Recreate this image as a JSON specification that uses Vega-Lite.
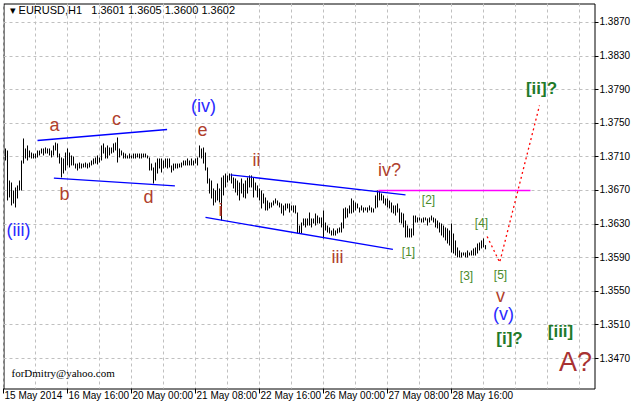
{
  "$schema": "https://vega.github.io/schema/vega-lite/v6.json",
  "width": 591,
  "height": 385,
  "autosize": "none",
  "padding": {"left": 3.5, "top": 3.5, "right": 37.5, "bottom": 17.5},
  "background": "white",
  "config": {"view": {"stroke": "black", "strokeWidth": 1}, "font": "Liberation Sans"},
  "datasets": {
    "bars": [
      {"i":-31,"h":1.37200,"p":1.37057},{"i":-30,"h":1.37176,"p":1.36581},{"i":-29,"h":1.36819,"p":1.36617},{"i":-28,"h":1.36795,"p":1.36522},
      {"i":-27,"h":1.36700,"p":1.36545},{"i":-26,"h":1.36736,"p":1.36498},{"i":-25,"h":1.36760,"p":1.36605},{"i":-24,"h":1.36819,"p":1.36700},
      {"i":-23,"h":1.37057,"p":1.36700},{"i":-22,"h":1.37319,"p":1.37021},{"i":-21,"h":1.37200,"p":1.37081},{"i":-20,"h":1.37236,"p":1.37057},
      {"i":-19,"h":1.37176,"p":1.37093},{"i":-18,"h":1.37152,"p":1.37081},{"i":-17,"h":1.37140,"p":1.37081},{"i":-16,"h":1.37140,"p":1.37081},
      {"i":-15,"h":1.37176,"p":1.37093},{"i":-14,"h":1.37176,"p":1.37117},{"i":-13,"h":1.37200,"p":1.37140},{"i":-12,"h":1.37200,"p":1.37117},
      {"i":-11,"h":1.37212,"p":1.37140},{"i":-10,"h":1.37200,"p":1.37140},{"i":-9,"h":1.37200,"p":1.37117},{"i":-8,"h":1.37176,"p":1.37093},
      {"i":-7,"h":1.37236,"p":1.37117},{"i":-6,"h":1.37271,"p":1.37176},{"i":-5,"h":1.37260,"p":1.37093},{"i":-4,"h":1.37140,"p":1.37021},
      {"i":-3,"h":1.37093,"p":1.36855},{"i":-2,"h":1.37081,"p":1.36902},{"i":-1,"h":1.37152,"p":1.36938},{"i":0,"h":1.37200,"p":1.36998},
      {"i":1,"h":1.37152,"p":1.36974},{"i":2,"h":1.37117,"p":1.36998},{"i":3,"h":1.37105,"p":1.36998},{"i":4,"h":1.37021,"p":1.36962},
      {"i":5,"h":1.37021,"p":1.36938},{"i":6,"h":1.37033,"p":1.36962},{"i":7,"h":1.37021,"p":1.36962},{"i":8,"h":1.37021,"p":1.36974},
      {"i":9,"h":1.37033,"p":1.36974},{"i":10,"h":1.37021,"p":1.36962},{"i":11,"h":1.37033,"p":1.36974},{"i":12,"h":1.37057,"p":1.36998},
      {"i":13,"h":1.37081,"p":1.37010},{"i":14,"h":1.37093,"p":1.37021},{"i":15,"h":1.37117,"p":1.37010},{"i":16,"h":1.37093,"p":1.37033},
      {"i":17,"h":1.37236,"p":1.37057},{"i":18,"h":1.37260,"p":1.37140},{"i":19,"h":1.37212,"p":1.37081},{"i":20,"h":1.37236,"p":1.37081},
      {"i":21,"h":1.37212,"p":1.37117},{"i":22,"h":1.37212,"p":1.37140},{"i":23,"h":1.37260,"p":1.37152},{"i":24,"h":1.37271,"p":1.37176},
      {"i":25,"h":1.37331,"p":1.37033},{"i":26,"h":1.37200,"p":1.37093},{"i":27,"h":1.37176,"p":1.37117},{"i":28,"h":1.37152,"p":1.37081},
      {"i":29,"h":1.37140,"p":1.37081},{"i":30,"h":1.37117,"p":1.37081},{"i":31,"h":1.37140,"p":1.37081},{"i":32,"h":1.37117,"p":1.37081},
      {"i":33,"h":1.37140,"p":1.37081},{"i":34,"h":1.37140,"p":1.37081},{"i":35,"h":1.37140,"p":1.37093},{"i":36,"h":1.37140,"p":1.37081},
      {"i":37,"h":1.37140,"p":1.37081},{"i":38,"h":1.37140,"p":1.37093},{"i":39,"h":1.37140,"p":1.37093},{"i":40,"h":1.37117,"p":1.37081},
      {"i":41,"h":1.37093,"p":1.36938},{"i":42,"h":1.37021,"p":1.36938},{"i":43,"h":1.36974,"p":1.36783},{"i":44,"h":1.37033,"p":1.36819},
      {"i":45,"h":1.37081,"p":1.36902},{"i":46,"h":1.37081,"p":1.36962},{"i":47,"h":1.37081,"p":1.36914},{"i":48,"h":1.37057,"p":1.36962},
      {"i":49,"h":1.37081,"p":1.36974},{"i":50,"h":1.37081,"p":1.36962},{"i":51,"h":1.37081,"p":1.36974},{"i":52,"h":1.36998,"p":1.36914},
      {"i":53,"h":1.37021,"p":1.36938},{"i":54,"h":1.37021,"p":1.36962},{"i":55,"h":1.37021,"p":1.36962},{"i":56,"h":1.37021,"p":1.36974},
      {"i":57,"h":1.37033,"p":1.36974},{"i":58,"h":1.37057,"p":1.36998},{"i":59,"h":1.37057,"p":1.36998},{"i":60,"h":1.37081,"p":1.36998},
      {"i":61,"h":1.37057,"p":1.36998},{"i":62,"h":1.37081,"p":1.36998},{"i":63,"h":1.37057,"p":1.36998},{"i":64,"h":1.37081,"p":1.37021},
      {"i":65,"h":1.37093,"p":1.36998},{"i":66,"h":1.37236,"p":1.37093},{"i":67,"h":1.37200,"p":1.37081},{"i":68,"h":1.37212,"p":1.37021},
      {"i":69,"h":1.37152,"p":1.36938},{"i":70,"h":1.36974,"p":1.36783},{"i":71,"h":1.36843,"p":1.36664},{"i":72,"h":1.36819,"p":1.36605},
      {"i":73,"h":1.36724,"p":1.36522},{"i":74,"h":1.36700,"p":1.36557},{"i":75,"h":1.36783,"p":1.36581},{"i":76,"h":1.36724,"p":1.36557},
      {"i":77,"h":1.36855,"p":1.36343},{"i":78,"h":1.36879,"p":1.36641},{"i":79,"h":1.36902,"p":1.36736},{"i":80,"h":1.36879,"p":1.36795},
      {"i":81,"h":1.36902,"p":1.36819},{"i":82,"h":1.36902,"p":1.36783},{"i":83,"h":1.36855,"p":1.36724},{"i":84,"h":1.36843,"p":1.36676},
      {"i":85,"h":1.36819,"p":1.36641},{"i":86,"h":1.36795,"p":1.36581},{"i":87,"h":1.36843,"p":1.36664},{"i":88,"h":1.36783,"p":1.36617},
      {"i":89,"h":1.36819,"p":1.36605},{"i":90,"h":1.36855,"p":1.36664},{"i":91,"h":1.36879,"p":1.36736},{"i":92,"h":1.36879,"p":1.36736},
      {"i":93,"h":1.36855,"p":1.36617},{"i":94,"h":1.36795,"p":1.36700},{"i":95,"h":1.36760,"p":1.36617},{"i":96,"h":1.36724,"p":1.36581},
      {"i":97,"h":1.36700,"p":1.36486},{"i":98,"h":1.36664,"p":1.36545},{"i":99,"h":1.36617,"p":1.36462},{"i":100,"h":1.36581,"p":1.36462},
      {"i":101,"h":1.36557,"p":1.36486},{"i":102,"h":1.36557,"p":1.36498},{"i":103,"h":1.36581,"p":1.36522},{"i":104,"h":1.36605,"p":1.36545},
      {"i":105,"h":1.36581,"p":1.36522},{"i":106,"h":1.36557,"p":1.36498},{"i":107,"h":1.36545,"p":1.36426},{"i":108,"h":1.36522,"p":1.36402},
      {"i":109,"h":1.36545,"p":1.36462},{"i":110,"h":1.36545,"p":1.36486},{"i":111,"h":1.36545,"p":1.36438},{"i":112,"h":1.36522,"p":1.36462},
      {"i":113,"h":1.36522,"p":1.36438},{"i":114,"h":1.36522,"p":1.36426},{"i":115,"h":1.36438,"p":1.36188},{"i":116,"h":1.36283,"p":1.36188},
      {"i":117,"h":1.36319,"p":1.36188},{"i":118,"h":1.36367,"p":1.36283},{"i":119,"h":1.36367,"p":1.36260},{"i":120,"h":1.36367,"p":1.36283},
      {"i":121,"h":1.36438,"p":1.36283},{"i":122,"h":1.36367,"p":1.36260},{"i":123,"h":1.36367,"p":1.36307},{"i":124,"h":1.36426,"p":1.36283},
      {"i":125,"h":1.36402,"p":1.36307},{"i":126,"h":1.36379,"p":1.36307},{"i":127,"h":1.36379,"p":1.36260},{"i":128,"h":1.36462,"p":1.36129},
      {"i":129,"h":1.36319,"p":1.36224},{"i":130,"h":1.36283,"p":1.36200},{"i":131,"h":1.36260,"p":1.36188},{"i":132,"h":1.36224,"p":1.36164},
      {"i":133,"h":1.36248,"p":1.36164},{"i":134,"h":1.36224,"p":1.36164},{"i":135,"h":1.36248,"p":1.36188},{"i":136,"h":1.36260,"p":1.36200},
      {"i":137,"h":1.36319,"p":1.36200},{"i":138,"h":1.36486,"p":1.36248},{"i":139,"h":1.36498,"p":1.36367},{"i":140,"h":1.36486,"p":1.36379},
      {"i":141,"h":1.36522,"p":1.36426},{"i":142,"h":1.36605,"p":1.36426},{"i":143,"h":1.36581,"p":1.36438},{"i":144,"h":1.36557,"p":1.36462},
      {"i":145,"h":1.36545,"p":1.36486},{"i":146,"h":1.36498,"p":1.36438},{"i":147,"h":1.36522,"p":1.36462},{"i":148,"h":1.36498,"p":1.36438},
      {"i":149,"h":1.36498,"p":1.36462},{"i":150,"h":1.36498,"p":1.36438},{"i":151,"h":1.36522,"p":1.36462},{"i":152,"h":1.36498,"p":1.36438},
      {"i":153,"h":1.36486,"p":1.36438},{"i":154,"h":1.36641,"p":1.36486},{"i":155,"h":1.36700,"p":1.36498},{"i":156,"h":1.36700,"p":1.36581},
      {"i":157,"h":1.36664,"p":1.36581},{"i":158,"h":1.36641,"p":1.36545},{"i":159,"h":1.36605,"p":1.36522},{"i":160,"h":1.36605,"p":1.36498},
      {"i":161,"h":1.36581,"p":1.36486},{"i":162,"h":1.36557,"p":1.36438},{"i":163,"h":1.36522,"p":1.36426},{"i":164,"h":1.36522,"p":1.36402},
      {"i":165,"h":1.36545,"p":1.36438},{"i":166,"h":1.36486,"p":1.36319},{"i":167,"h":1.36438,"p":1.36307},{"i":168,"h":1.36426,"p":1.36260},
      {"i":169,"h":1.36343,"p":1.36141},{"i":170,"h":1.36283,"p":1.36141},{"i":171,"h":1.36248,"p":1.36141},{"i":172,"h":1.36248,"p":1.36141},
      {"i":173,"h":1.36402,"p":1.36164},{"i":174,"h":1.36402,"p":1.36319},{"i":175,"h":1.36379,"p":1.36319},{"i":176,"h":1.36379,"p":1.36343},
      {"i":177,"h":1.36367,"p":1.36319},{"i":178,"h":1.36379,"p":1.36319},{"i":179,"h":1.36379,"p":1.36343},{"i":180,"h":1.36367,"p":1.36283},
      {"i":181,"h":1.36379,"p":1.36319},{"i":182,"h":1.36402,"p":1.36343},{"i":183,"h":1.36379,"p":1.36319},{"i":184,"h":1.36367,"p":1.36260},
      {"i":185,"h":1.36343,"p":1.36248},{"i":186,"h":1.36319,"p":1.36200},{"i":187,"h":1.36307,"p":1.36164},{"i":188,"h":1.36283,"p":1.36141},
      {"i":189,"h":1.36260,"p":1.36105},{"i":190,"h":1.36248,"p":1.36069},{"i":191,"h":1.36224,"p":1.36045},{"i":192,"h":1.36307,"p":1.35962},
      {"i":193,"h":1.36188,"p":1.35950},{"i":194,"h":1.36105,"p":1.35926},{"i":195,"h":1.36022,"p":1.35903},{"i":196,"h":1.35986,"p":1.35903},
      {"i":197,"h":1.35962,"p":1.35903},{"i":198,"h":1.35962,"p":1.35926},{"i":199,"h":1.35962,"p":1.35903},{"i":200,"h":1.35986,"p":1.35903},
      {"i":201,"h":1.35962,"p":1.35926},{"i":202,"h":1.35986,"p":1.35926},{"i":203,"h":1.36010,"p":1.35926},{"i":204,"h":1.36022,"p":1.35926},
      {"i":205,"h":1.36069,"p":1.35950},{"i":206,"h":1.36081,"p":1.35986},{"i":207,"h":1.36105,"p":1.36010},{"i":208,"h":1.36129,"p":1.36022},
      {"i":209,"h":1.36050,"p":1.36000}
    ],
    "lines": [
      {"seg":"ac","s":"b","i":-15,"p":1.37295},{"seg":"ac","s":"b","i":49.8,"p":1.37426},
      {"seg":"bd","s":"b","i":-6.8,"p":1.36847},{"seg":"bd","s":"b","i":53.7,"p":1.36756},
      {"seg":"lo","s":"b","i":69,"p":1.36379},{"seg":"lo","s":"b","i":162.7,"p":1.35998},
      {"seg":"up","s":"b","i":81.5,"p":1.36887},{"seg":"up","s":"b","i":169,"p":1.36649},
      {"seg":"mg","s":"m","i":155.5,"p":1.36700},{"seg":"mg","s":"m","i":231.5,"p":1.36700},
      {"seg":"pr","s":"r","i":209.8,"p":1.36153},{"seg":"pr","s":"r","i":216.1,"p":1.35845},{"seg":"pr","s":"r","i":236,"p":1.37712}
    ],
    "labels": [
      {"t":"a","g":"br","i":-6.5,"p":1.37462},
      {"t":"b","g":"br","i":-1.5,"p":1.36641},
      {"t":"c","g":"br","i":24.5,"p":1.37545},
      {"t":"d","g":"br","i":40.5,"p":1.36605},
      {"t":"e","g":"br","i":67.5,"p":1.37414},
      {"t":"i","g":"br","i":76.5,"p":1.36450},
      {"t":"ii","g":"br","i":94.5,"p":1.37057},
      {"t":"iii","g":"br","i":135,"p":1.35891},
      {"t":"iv?","g":"br","i":161,"p":1.36938},
      {"t":"v","g":"br","i":216.5,"p":1.35438},
      {"t":"(iv)","g":"bl","i":68,"p":1.37688},
      {"t":"(iii)","g":"bl","i":-24.5,"p":1.36212},
      {"t":"(v)","g":"bl","i":218,"p":1.35212},
      {"t":"[1]","g":"gs","i":170.5,"p":1.35962},
      {"t":"[2]","g":"gs","i":180.5,"p":1.36581},
      {"t":"[3]","g":"gs","i":199.5,"p":1.35688},
      {"t":"[4]","g":"gs","i":207,"p":1.36319},
      {"t":"[5]","g":"gs","i":216.5,"p":1.35700},
      {"t":"[i]?","g":"gb","i":221,"p":1.34938},
      {"t":"[ii]?","g":"gb","i":237,"p":1.37903},
      {"t":"[iii]","g":"gb","i":246.5,"p":1.35010},
      {"t":"A?","g":"A","i":254,"p":1.34652},
      {"t":"forDmitry@yahoo.com","g":"w","i":-28,"p":1.34521},
      {"t":"▾ EURUSD,H1\u00a0\u00a0 1.3601 1.3605 1.3600 1.3602","g":"hd","i":-29,"p":1.38831}
    ]
  },
  "encoding": {
    "x": {
      "field": "i", "type": "quantitative",
      "scale": {"domain": [-32, 263.5], "nice": false, "zero": false},
      "axis": {
        "orient": "bottom", "title": null,
        "values": [-32,-16,0,16,32,48,64,80,96,112,128,144,160,176,192,208,224,240,256],
        "grid": true, "gridColor": "#c0c0c0", "gridDash": [3,3], "gridWidth": 1,
        "domain": false, "tickColor": "black", "tickSize": 5, "tickWidth": 1,
        "tickOpacity": {"condition": {"test": "datum.value % 32 == 0 && datum.value <= 192", "value": 1}, "value": 0},
        "labelExpr": "datum.value == -32 ? '15 May 2014' : datum.value == 0 ? '16 May 16:00' : datum.value == 32 ? '20 May 00:00' : datum.value == 64 ? '21 May 08:00' : datum.value == 96 ? '22 May 16:00' : datum.value == 128 ? '26 May 00:00' : datum.value == 160 ? '27 May 08:00' : datum.value == 192 ? '28 May 16:00' : ''",
        "labelAlign": "left", "labelBaseline": "top", "labelPadding": -3, "labelOffset": 1,
        "labelFont": "Liberation Sans", "labelFontSize": 10, "labelColor": "black",
        "labelOverlap": false, "labelBound": false, "labelFlush": false, "translate": 0
      }
    },
    "y": {
      "field": "p", "type": "quantitative",
      "scale": {"domain": [1.34343, 1.38926], "nice": false, "zero": false},
      "axis": {
        "orient": "right", "title": null,
        "values": [1.347,1.351,1.355,1.359,1.363,1.367,1.371,1.375,1.379,1.383,1.387],
        "format": ".4f", "grid": true, "gridColor": "#c0c0c0", "gridDash": [3,3], "gridWidth": 1,
        "domain": false, "tickColor": "black", "tickSize": 4, "labelPadding": 1,
        "labelFont": "Liberation Sans", "labelFontSize": 10, "labelColor": "black",
        "labelOverlap": false, "labelBound": false, "labelFlush": false, "translate": 0
      }
    }
  },
  "layer": [
    {
      "data": {"name": "bars"},
      "mark": {"type": "rule", "color": "black", "strokeWidth": 1},
      "encoding": {"y2": {"field": "h"}}
    },
    {
      "data": {"name": "lines"},
      "transform": [{"filter": "datum.s == 'b'"}],
      "mark": {"type": "line", "color": "#0000ff", "strokeWidth": 1.3},
      "encoding": {"detail": {"field": "seg"}}
    },
    {
      "data": {"name": "lines"},
      "transform": [{"filter": "datum.s == 'm'"}],
      "mark": {"type": "line", "color": "#ff00ff", "strokeWidth": 1.5},
      "encoding": {}
    },
    {
      "data": {"name": "lines"},
      "transform": [{"filter": "datum.s == 'r'"}],
      "mark": {"type": "line", "color": "#ff0000", "strokeWidth": 1.3, "strokeDash": [2, 3]},
      "encoding": {}
    },
    {
      "data": {"name": "labels"},
      "transform": [{"filter": "datum.g == 'br'"}],
      "mark": {"type": "text", "font": "Liberation Sans", "fontSize": 18, "color": "#b0402c", "align": "center", "baseline": "middle"},
      "encoding": {"text": {"field": "t"}}
    },
    {
      "data": {"name": "labels"},
      "transform": [{"filter": "datum.g == 'bl'"}],
      "mark": {"type": "text", "font": "Liberation Sans", "fontSize": 18, "color": "#2a2aff", "align": "center", "baseline": "middle"},
      "encoding": {"text": {"field": "t"}}
    },
    {
      "data": {"name": "labels"},
      "transform": [{"filter": "datum.g == 'gs'"}],
      "mark": {"type": "text", "font": "Liberation Sans", "fontSize": 12, "color": "#4a8a2a", "align": "center", "baseline": "middle"},
      "encoding": {"text": {"field": "t"}}
    },
    {
      "data": {"name": "labels"},
      "transform": [{"filter": "datum.g == 'gb'"}],
      "mark": {"type": "text", "font": "Liberation Sans", "fontSize": 17, "fontWeight": "bold", "color": "#1f7a2a", "align": "center", "baseline": "middle"},
      "encoding": {"text": {"field": "t"}}
    },
    {
      "data": {"name": "labels"},
      "transform": [{"filter": "datum.g == 'A'"}],
      "mark": {"type": "text", "font": "Liberation Sans", "fontSize": 27, "color": "#a83232", "align": "center", "baseline": "middle"},
      "encoding": {"text": {"field": "t"}}
    },
    {
      "data": {"name": "labels"},
      "transform": [{"filter": "datum.g == 'w'"}],
      "mark": {"type": "text", "font": "Liberation Serif", "fontSize": 11, "color": "black", "align": "left", "baseline": "middle"},
      "encoding": {"text": {"field": "t"}}
    },
    {
      "data": {"name": "labels"},
      "transform": [{"filter": "datum.g == 'hd'"}],
      "mark": {"type": "text", "font": "Liberation Sans", "fontSize": 11, "color": "black", "align": "left", "baseline": "middle"},
      "encoding": {"text": {"field": "t"}}
    }
  ]
}
